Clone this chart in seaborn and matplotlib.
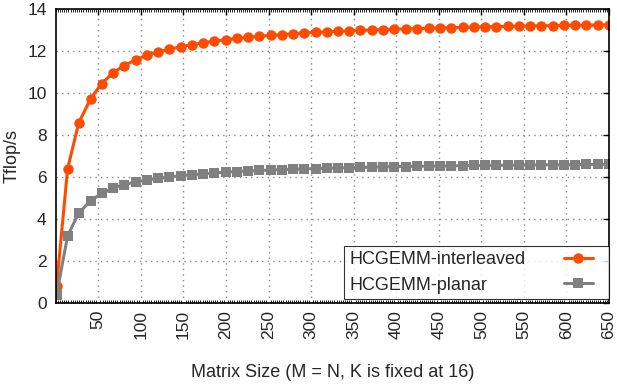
import matplotlib
matplotlib.use("Agg")
import matplotlib.pyplot as plt
from matplotlib.ticker import MultipleLocator
from matplotlib.legend_handler import HandlerLine2D
from matplotlib.lines import Line2D
import seaborn as sns
import pandas as pd

matrix_size = [1, 14, 27, 41, 54, 67, 80, 94, 107, 120, 133, 147, 160, 173, 186,
               200, 213, 226, 239, 253, 266, 279, 292, 306, 319, 332, 345, 358,
               372, 385, 398, 411, 425, 438, 451, 464, 478, 491, 504, 517, 531,
               544, 557, 570, 584, 597, 610, 623, 637, 650]

interleaved = [0.8, 6.4, 8.57, 9.73, 10.45, 10.95, 11.3, 11.58, 11.8, 11.95,
               12.08, 12.2, 12.3, 12.39, 12.47, 12.54, 12.6, 12.65, 12.7, 12.74,
               12.78, 12.82, 12.86, 12.89, 12.92, 12.94, 12.96, 12.98, 13.0, 13.02,
               13.04, 13.05, 13.07, 13.08, 13.1, 13.11, 13.12, 13.14, 13.15, 13.16,
               13.17, 13.18, 13.19, 13.2, 13.21, 13.22, 13.23, 13.23, 13.24, 13.25]

planar = [0.4, 3.2, 4.28, 4.87, 5.22, 5.46, 5.64, 5.76, 5.86, 5.94,
          6.0, 6.06, 6.11, 6.15, 6.19, 6.23, 6.26, 6.29, 6.31, 6.33,
          6.35, 6.37, 6.39, 6.4, 6.42, 6.43, 6.44, 6.46, 6.47, 6.48,
          6.49, 6.5, 6.51, 6.52, 6.52, 6.53, 6.54, 6.55, 6.55, 6.56,
          6.56, 6.57, 6.57, 6.58, 6.58, 6.59, 6.59, 6.6, 6.6, 6.6]

series_names = ["HCGEMM-interleaved", "HCGEMM-planar"]
x_ticks = [50, 100, 150, 200, 250, 300, 350, 400, 450, 500, 550, 600, 650]
y_ticks = [0, 2, 4, 6, 8, 10, 12, 14]

sns.set_style("white")
plt.rcParams['font.family'] = ['Liberation Sans', 'DejaVu Sans']

df = pd.DataFrame({
    "Matrix Size": matrix_size * 2,
    "Tflop/s": interleaved + planar,
    "Series": [series_names[0]] * len(matrix_size) + [series_names[1]] * len(matrix_size),
})

fig = plt.figure(figsize=(6.17, 3.84), dpi=100)
ax = fig.add_axes([0.0903, 0.2109, 0.8967, 0.7657])

sns.lineplot(data=df, x="Matrix Size", y="Tflop/s", hue="Series", style="Series",
             palette=["#FF4A00", "#808080"], markers=["o", "s"], dashes=False,
             markersize=7.5, markeredgewidth=0, linewidth=2.2, ax=ax, legend=True)

ax.set_xlim(0, 650)
ax.set_ylim(0, 14)
ax.set_xticks(x_ticks)
ax.set_xticklabels([str(t) for t in x_ticks], rotation=90)
ax.set_yticks(y_ticks)
ax.xaxis.set_minor_locator(MultipleLocator(2.5))
ax.tick_params(axis='both', which='major', direction='in', length=4, width=1,
               top=True, right=True, labelsize=12.5, color='black')
ax.tick_params(axis='x', which='major', pad=5)
ax.tick_params(axis='y', which='major', pad=6.5)
ax.tick_params(axis='x', which='minor', direction='in', length=2, width=0.6,
               top=True, bottom=True, color='black')
ax.grid(True, which='major', linestyle=(0, (1, 3)), color='#888888', linewidth=1)
for s in ax.spines.values():
    s.set_color('black')
    s.set_linewidth(1.2)

ax.set_xlabel("Matrix Size (M = N, K is fixed at 16)", fontsize=13, labelpad=18)
ax.set_ylabel("Tflop/s", fontsize=13, labelpad=5)


class RightPadHandler(HandlerLine2D):
    """Draws the line sample leaving empty room at the right of the handle box."""
    def __init__(self, right_pad, **kw):
        super().__init__(**kw)
        self.right_pad = right_pad

    def create_artists(self, legend, orig_handle, xdescent, ydescent, width,
                       height, fontsize, trans):
        return super().create_artists(legend, orig_handle, xdescent, ydescent,
                                      width - self.right_pad, height, fontsize, trans)


handles, labels = ax.get_legend_handles_labels()
pad_pt = 11 * 72.0 / fig.dpi
leg = ax.legend(handles, labels, loc='lower right', bbox_to_anchor=(1.0, 4 / 294),
                markerfirst=False, fontsize=13, frameon=True, fancybox=False,
                borderaxespad=0, handlelength=(29 * 0.72 + pad_pt) / 13,
                labelspacing=0.45, borderpad=0.3, handletextpad=2.1,
                handler_map={Line2D: RightPadHandler(pad_pt)})
leg.get_frame().set_edgecolor('black')
leg.get_frame().set_linewidth(0.8)

# left-align legend texts while keeping handles aligned on the right
fig.canvas.draw()
renderer = fig.canvas.get_renderer()
texts = leg.get_texts()
widths = [t.get_window_extent(renderer).width for t in texts]
maxw = max(widths)
column = leg._legend_handle_box.get_children()[0]
for item, w in zip(column.get_children(), widths):
    item.sep = item.sep + (maxw - w) * 72.0 / fig.dpi

fig.savefig("out.png", dpi=100)
